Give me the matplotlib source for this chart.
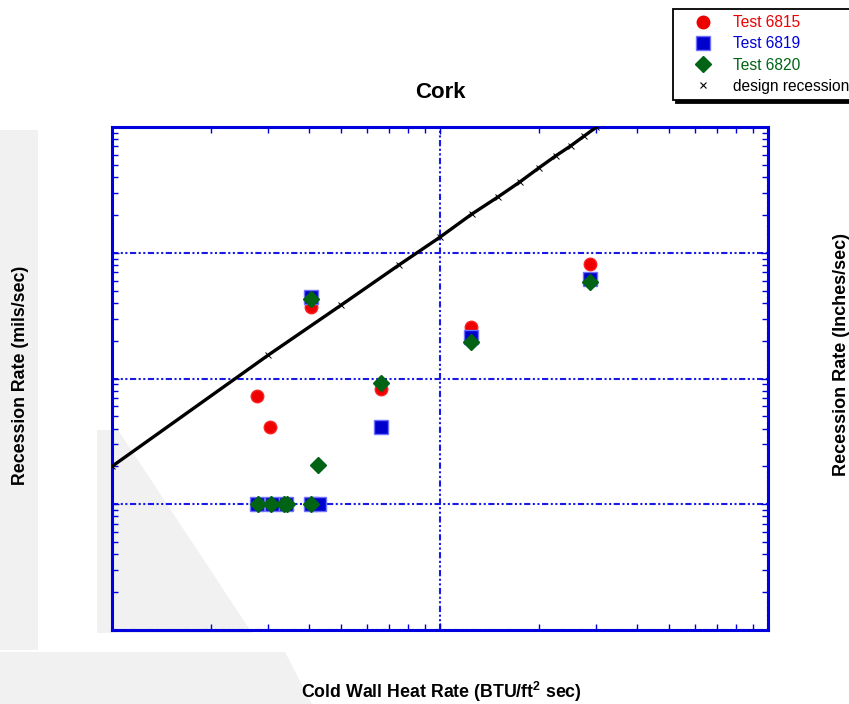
import numpy as np
import matplotlib
matplotlib.use('agg')
import matplotlib.pyplot as plt
from matplotlib.patches import Polygon
from matplotlib.lines import Line2D

plt.rcParams['font.family'] = 'Liberation Sans'
plt.rcParams['mathtext.fontset'] = 'custom'
plt.rcParams['mathtext.rm'] = 'Liberation Sans:bold'
plt.rcParams['mathtext.it'] = 'Liberation Sans:bold'

# heat rate (BTU/ft^2 sec) and recession rate (mils/sec) per test
t6815_x = [27.7, 30.3, 40.4, 66.1, 124.3, 286.6, 27.7, 30.3, 40.4]
t6815_y = [0.726, 0.411, 3.70, 0.825, 2.57, 8.14, 0.1, 0.1, 0.1]

t6819_x = [40.4, 66.1, 124.3, 286.6, 27.7, 30.7, 33.9, 40.4, 42.8]
t6819_y = [4.45, 0.411, 2.14, 6.18, 0.1, 0.1, 0.1, 0.1, 0.1]

t6820_x = [40.4, 66.1, 124.3, 286.6, 42.5, 27.9, 30.5, 33.4, 34.1, 40.4]
t6820_y = [4.29, 0.921, 1.95, 5.85, 0.205, 0.1, 0.1, 0.1, 0.1, 0.1]

design_x = [10, 30, 50, 75, 100, 125, 150, 175, 200, 225, 250, 275, 300, 325]
design_y = [0.20, 1.54, 3.84, 8.0, 13.3, 20.3, 27.7, 36.5, 47.2, 58.8, 70.6, 84.7, 100.0, 115.0]

W, H = 849, 704
fig = plt.figure(figsize=(W / 100, H / 100), dpi=100)
fig.patch.set_facecolor('white')

def fpoly(pts):
    # faint background shape, points in pixels from the top-left corner
    xy = [(x / W, 1 - y / H) for x, y in pts]
    fig.patches.append(Polygon(xy, closed=True, transform=fig.transFigure,
                               facecolor='#f1f1f1', edgecolor='none', zorder=-5))

fpoly([(0, 130), (38, 130), (38, 650), (0, 650)])
fpoly([(0, 652), (285, 652), (312, 704), (0, 704)])
fpoly([(97, 430), (118, 430), (252, 633), (97, 633)])

ax = fig.add_axes([112 / W, 1 - 630 / H, 656 / W, 503 / H])
ax.patch.set_alpha(0)
ax.set_xscale('log')
ax.set_yscale('log')
ax.set_xlim(10, 1000)
ax.set_ylim(0.01, 100)

blue = '#0000dd'
grid_ls = (0, (3, 1.2, 1, 1.2, 1, 1.2))
ax.grid(True, which='major', color='#1a1ae6', linestyle=grid_ls, linewidth=1.5)
ax.tick_params(which='both', direction='in', colors=blue, top=True, right=True,
               labelbottom=False, labelleft=False)
ax.tick_params(which='major', length=5, width=1)
ax.tick_params(which='minor', length=4, width=1)
for s in ['left', 'bottom']:
    ax.spines[s].set_color(blue)
    ax.spines[s].set_linewidth(2.2)
for s in ['top', 'right']:
    ax.spines[s].set_color(blue)
    ax.spines[s].set_linewidth(2.2)
    ax.spines[s].set_linestyle((0, (2, 0.6)))

ax.plot(design_x, design_y, color='black', linewidth=2.4, marker='x',
        markersize=4, markeredgewidth=0.7, zorder=3)
ax.plot(t6815_x, t6815_y, linestyle='none', marker='o', markersize=9,
        color='#ee0000', markeredgecolor='#ff2020', zorder=4)
ax.plot(t6819_x, t6819_y, linestyle='none', marker='s', markersize=10,
        color='#0000cc', markeredgecolor='#7070ff', markeredgewidth=1, zorder=5)
ax.plot(t6820_x, t6820_y, linestyle='none', marker='D', markersize=8,
        color='#006414', markeredgecolor='#006414', zorder=6)

fig.text(440 / W, 1 - 92 / H, 'Cork', ha='center', va='center',
         fontsize=16, fontweight='bold')
fig.text(441 / W, 1 - 692 / H, r'Cold Wall Heat Rate (BTU/ft$^{2}$ sec)',
         ha='center', va='center', fontsize=12.8, fontweight='bold')
fig.text(21 / W, 1 - 375 / H, 'Recession Rate (mils/sec)', rotation=90,
         ha='center', va='center', fontsize=12.8, fontweight='bold')
fig.text(842 / W, 1 - 354 / H, 'Recession Rate (Inches/sec)', rotation=90,
         ha='center', va='center', fontsize=13, fontweight='bold')

handles = [
    Line2D([], [], linestyle='none', marker='o', markersize=9, color='#ee0000'),
    Line2D([], [], linestyle='none', marker='s', markersize=10, color='#0000cc',
           markeredgecolor='#7070ff'),
    Line2D([], [], linestyle='none', marker='D', markersize=8, color='#006414'),
    Line2D([], [], linestyle='none', marker='x', markersize=4, color='black',
           markeredgewidth=0.8),
]
labels = ['Test 6815', 'Test 6819', 'Test 6820', 'design recession']
leg = fig.legend(handles, labels, loc='upper left',
                 bbox_to_anchor=(673 / W, 1 - 9 / H), bbox_transform=fig.transFigure,
                 fontsize=11.2, frameon=True, fancybox=False, borderaxespad=0,
                 handlelength=3.0, handletextpad=0.45, labelspacing=0.4,
                 borderpad=0.4, shadow={'color': 'black', 'alpha': 1})
leg.get_frame().set_edgecolor('black')
leg.get_frame().set_linewidth(1.3)
for txt, c in zip(leg.get_texts(), ['#ee0000', '#0000dd', '#006414', 'black']):
    txt.set_color(c)

fig.savefig('out.png', dpi=100)
